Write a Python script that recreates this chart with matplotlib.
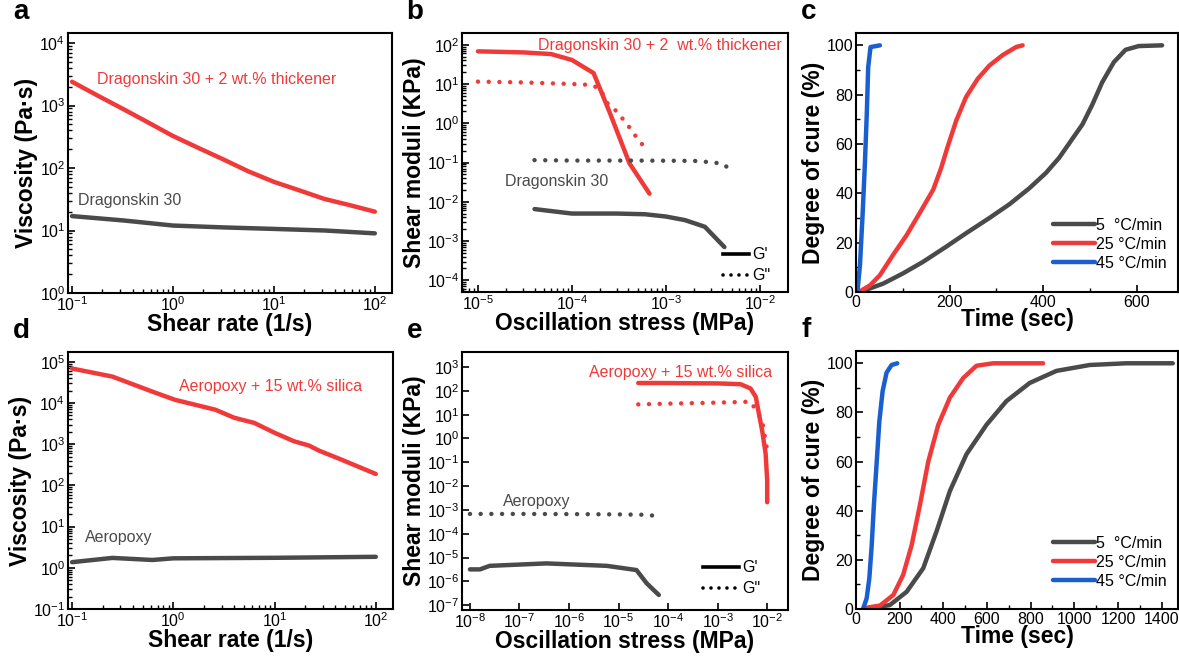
import matplotlib.pyplot as plt
import numpy as np

plt.rcParams['font.family'] = ['Liberation Sans', 'DejaVu Sans']
plt.rcParams['mathtext.fontset'] = 'custom'
plt.rcParams['mathtext.rm'] = 'Liberation Sans'

RED = '#f03a3a'
GREY = '#4a4a4a'
BLUE = '#1a5fd0'
LW = 3.2
DOT = (0, (0.01, 2.4))

# ---- a: viscosity, Dragonskin ----
a_x = [0.1, 0.178, 0.316, 0.562, 1, 1.78, 3.16, 5.62, 10, 17.8, 31.6, 56.2, 100]
a_thick = [2400, 1450, 890, 540, 325, 210, 137, 88, 60, 44, 32, 25.5, 20]
a_plain_x = [0.1, 0.32, 1, 3.2, 10, 32, 100]
a_plain = [17, 14.5, 12, 11.2, 10.6, 10, 9]

# ---- b: shear moduli, Dragonskin ----
b_thick_gp_x = [1e-5, 3e-5, 6e-5, 1e-4, 1.7e-4, 2.5e-4, 4.1e-4, 6.7e-4]
b_thick_gp = [68, 64, 58, 41, 19, 2.0, 0.095, 0.016]
b_thick_gpp_x = [1e-5, 3e-5, 1e-4, 1.6e-4, 2e-4, 2.4e-4, 3e-4, 4e-4, 4.8e-4, 5.8e-4]
b_thick_gpp = [11.5, 11, 10, 9.5, 7.5, 3.2, 2.0, 0.85, 0.46, 0.26]
b_plain_gp_x = [4e-5, 1e-4, 3e-4, 6e-4, 1e-3, 1.6e-3, 2.6e-3, 4.2e-3]
b_plain_gp = [0.0065, 0.005, 0.005, 0.0048, 0.0042, 0.0034, 0.0023, 0.0007]
b_plain_gpp_x = [4e-5, 1e-4, 5e-4, 1e-3, 2e-3, 3.3e-3, 4.2e-3, 5.1e-3]
b_plain_gpp = [0.115, 0.112, 0.112, 0.111, 0.11, 0.1, 0.088, 0.056]

# ---- c: degree of cure, Dragonskin ----
c_t5 = [0, 8.5, 58, 100, 143, 193, 235, 285, 328, 370, 406, 434, 459, 484, 505, 526, 551, 576, 604, 654]
c_y5 = [0, 0, 3.4, 7.5, 12.2, 18.4, 23.8, 30, 35.6, 42, 48.3, 54.4, 61.2, 68, 76, 85, 93.2, 98.2, 99.7, 100]
c_t25 = [0, 8.5, 30, 51, 79, 108, 136, 165, 182, 196, 214, 235, 260, 285, 313, 342, 356]
c_y25 = [0, 0.3, 2.7, 6.8, 15, 23, 32, 41.5, 50.3, 59, 69.4, 79, 86.4, 91.8, 96, 99.3, 100]
c_t45 = [3, 8.5, 14, 19, 23, 26, 31, 51]
c_y45 = [0, 11, 31, 52, 72, 91, 99.3, 100]

# ---- d: viscosity, Aeropoxy ----
d_x = [0.1, 0.25, 0.62, 1.04, 2.6, 4.0, 6.3, 10, 15.6, 21.9, 27.5, 44, 100]
d_silica = [69000, 44000, 19000, 12000, 6900, 4400, 3300, 1900, 1180, 930, 700, 440, 190]
d_plain_x = [0.1, 0.25, 0.62, 1.0, 10, 100]
d_plain = [1.37, 1.74, 1.55, 1.7, 1.75, 1.85]

# ---- e: shear moduli, Aeropoxy ----
e_silica_gp_x = [2.5e-5, 1e-4, 1e-3, 2.9e-3, 4.6e-3, 5.9e-3, 6.8e-3, 7.9e-3, 9.3e-3, 1e-2, 1e-2]
e_silica_gp = [213, 212, 205, 190, 126, 55, 11, 2.2, 0.23, 0.017, 0.0021]
e_silica_gpp_x = [2.5e-5, 1e-4, 1e-3, 4.6e-3, 6.5e-3, 7.9e-3, 1e-2]
e_silica_gpp = [27, 29, 32, 35, 12, 5.6, 0.32]
e_plain_gp_x = [1e-8, 1.6e-8, 2.5e-8, 3.5e-7, 5.8e-6, 2.3e-5, 3.7e-5, 6.5e-5]
e_plain_gp = [3.2e-6, 3.2e-6, 4.5e-6, 5.7e-6, 4.5e-6, 3.0e-6, 8.3e-7, 2.7e-7]
e_plain_gpp_x = [1e-8, 1e-7, 1e-6, 1e-5, 3e-5, 5.1e-5]
e_plain_gpp = [6.8e-4, 6.8e-4, 6.7e-4, 6.5e-4, 6.3e-4, 5.8e-4]

# ---- f: degree of cure, Aeropoxy ----
f_t5 = [64, 155, 232, 308, 369, 430, 506, 598, 689, 796, 918, 1070, 1238, 1451]
f_y5 = [0.3, 1.6, 7, 16.6, 31.6, 48, 63, 75, 84.6, 92, 96.9, 99.3, 100, 100]
f_t25 = [33.5, 110, 171, 216, 255, 293, 331, 377, 430, 491, 552, 628, 857]
f_y25 = [0.3, 1.4, 5.7, 13.9, 26, 42.4, 60, 75, 86, 94, 99, 100, 100]
f_t45 = [33.5, 49, 61, 72, 82, 95, 107, 122, 140, 163, 189]
f_y45 = [0.3, 4.4, 12.5, 26, 42.4, 60, 76.5, 88.7, 96.2, 99.3, 100]

rates = ['5  °C/min', '25 °C/min', '45 °C/min']

W, H = 1179, 657
fig = plt.figure(figsize=(W / 100, H / 100), dpi=100)


def box(l, r, t, b):
    return fig.add_axes([l / W, 1 - b / H, (r - l) / W, (b - t) / H])


def style(ax):
    ax.tick_params(which='both', direction='in', labelsize=11.5, pad=2)
    ax.tick_params(which='major', length=5, width=1.2)
    ax.tick_params(which='minor', length=3, width=1)
    for s in ax.spines.values():
        s.set_linewidth(1.5)


def xlab(ax, s):
    ax.set_xlabel(s, fontsize=16.5, fontweight='bold', labelpad=-1)


def ylab(ax, s):
    ax.set_ylabel(s, fontsize=16.5, fontweight='bold', labelpad=1)


def letter(ax, s):
    ax.text(-0.17, 1.03, s, transform=ax.transAxes, fontsize=20, fontweight='bold', va='bottom', ha='left')


def lin(ax, x, y, c, ls='-'):
    ax.plot(x, y, color=c, lw=LW, linestyle=ls, solid_capstyle='round', solid_joinstyle='round',
            dash_capstyle='round')


def note(ax, x, y, s, c, ha='left'):
    ax.text(x, y, s, transform=ax.transAxes, color=c, fontsize=11.5, ha=ha, va='center')


def gleg(ax, x0, x1, y0, y1):
    tr = ax.transAxes
    ax.plot([x0, x1], [y0, y0], transform=tr, color='black', lw=2.6)
    ax.plot([x0, x1], [y1, y1], transform=tr, color='black', lw=2.6, linestyle=(0, (0.01, 2.2)), dash_capstyle='round')
    ax.text(x1 + 0.01, y0, "G'", transform=tr, fontsize=11.5, va='center')
    ax.text(x1 + 0.01, y1, 'G"', transform=tr, fontsize=11.5, va='center')


def rleg(ax, yoff):
    ax.legend(rates, loc='lower right', bbox_to_anchor=(1, yoff), frameon=False, fontsize=11.5,
              handlelength=2.6, handletextpad=0.1, labelspacing=0.25, borderaxespad=0.3)


# a
ax = box(68, 392, 33, 293)
lin(ax, a_x, a_thick, RED)
lin(ax, a_plain_x, a_plain, GREY)
ax.set_xscale('log'); ax.set_yscale('log')
ax.set_xlim(10 ** -1.04, 10 ** 2.17)
ax.set_ylim(1, 10 ** 4.16)
note(ax, 0.09, 0.82, 'Dragonskin 30 + 2 wt.% thickener', RED)
note(ax, 0.03, 0.355, 'Dragonskin 30', GREY)
style(ax)
xlab(ax, 'Shear rate (1/s)'); ylab(ax, 'Viscosity (Pa·s)')
letter(ax, 'a')

# b
ax = box(462, 788, 33, 292)
lin(ax, b_thick_gp_x, b_thick_gp, RED)
lin(ax, b_thick_gpp_x, b_thick_gpp, RED, DOT)
lin(ax, b_plain_gp_x, b_plain_gp, GREY)
lin(ax, b_plain_gpp_x, b_plain_gpp, GREY, DOT)
ax.set_xscale('log'); ax.set_yscale('log')
ax.set_xlim(10 ** -5.17, 10 ** -1.7)
ax.set_ylim(10 ** -4.3, 10 ** 2.3)
note(ax, 0.98, 0.953, 'Dragonskin 30 + 2  wt.% thickener', RED, ha='right')
note(ax, 0.133, 0.425, 'Dragonskin 30', GREY)
gleg(ax, 0.80, 0.88, 0.145, 0.065)
style(ax)
xlab(ax, 'Oscillation stress (MPa)'); ylab(ax, 'Shear moduli (KPa)')
letter(ax, 'b')

# c
ax = box(856, 1178, 33, 292)
lin(ax, c_t5, c_y5, GREY)
lin(ax, c_t25, c_y25, RED)
lin(ax, c_t45, c_y45, BLUE)
ax.set_xlim(0, 688)
ax.set_ylim(0, 105)
ax.set_xticks([0, 200, 400, 600])
ax.set_xticks([100, 300, 500], minor=True)
ax.set_yticks([0, 20, 40, 60, 80, 100])
ax.set_yticks(np.arange(10, 100, 20), minor=True)
rleg(ax, 0.038)
style(ax)
xlab(ax, 'Time (sec)'); ylab(ax, 'Degree of cure (%)')
letter(ax, 'c')

# d
ax = box(68, 393, 352, 609)
lin(ax, d_x, d_silica, RED)
lin(ax, d_plain_x, d_plain, GREY)
ax.set_xscale('log'); ax.set_yscale('log')
ax.set_xlim(10 ** -1.04, 10 ** 2.17)
ax.set_ylim(0.1, 10 ** 5.24)
note(ax, 0.34, 0.864, 'Aeropoxy + 15 wt.% silica', RED)
note(ax, 0.052, 0.28, 'Aeropoxy', GREY)
style(ax)
xlab(ax, 'Shear rate (1/s)'); ylab(ax, 'Viscosity (Pa·s)')
letter(ax, 'd')

# e
ax = box(462, 788, 352, 610)
lin(ax, e_silica_gp_x, e_silica_gp, RED)
lin(ax, e_silica_gpp_x, e_silica_gpp, RED, DOT)
lin(ax, e_plain_gp_x, e_plain_gp, GREY)
lin(ax, e_plain_gpp_x, e_plain_gpp, GREY, DOT)
ax.set_xscale('log'); ax.set_yscale('log')
ax.set_xlim(10 ** -8.16, 10 ** -1.58)
ax.set_ylim(10 ** -7.2, 10 ** 3.63)
ax.set_xticks([10.0 ** k for k in range(-8, -1)])
ax.set_yticks([10.0 ** k for k in range(-7, 4)])
note(ax, 0.951, 0.922, 'Aeropoxy + 15 wt.% silica', RED, ha='right')
note(ax, 0.126, 0.42, 'Aeropoxy', GREY)
gleg(ax, 0.74, 0.85, 0.165, 0.085)
style(ax)
xlab(ax, 'Oscillation stress (MPa)'); ylab(ax, 'Shear moduli (KPa)')
letter(ax, 'e')

# f
ax = box(856, 1178, 351, 609)
lin(ax, f_t5, f_y5, GREY)
lin(ax, f_t25, f_y25, RED)
lin(ax, f_t45, f_y45, BLUE)
ax.set_xlim(0, 1475)
ax.set_ylim(0, 105)
ax.set_xticks(np.arange(0, 1401, 200))
ax.set_xticks(np.arange(100, 1500, 200), minor=True)
ax.set_yticks([0, 20, 40, 60, 80, 100])
ax.set_yticks(np.arange(10, 100, 20), minor=True)
rleg(ax, 0.035)
style(ax)
xlab(ax, 'Time (sec)'); ylab(ax, 'Degree of cure (%)')
letter(ax, 'f')

fig.savefig('out.png', dpi=100)
